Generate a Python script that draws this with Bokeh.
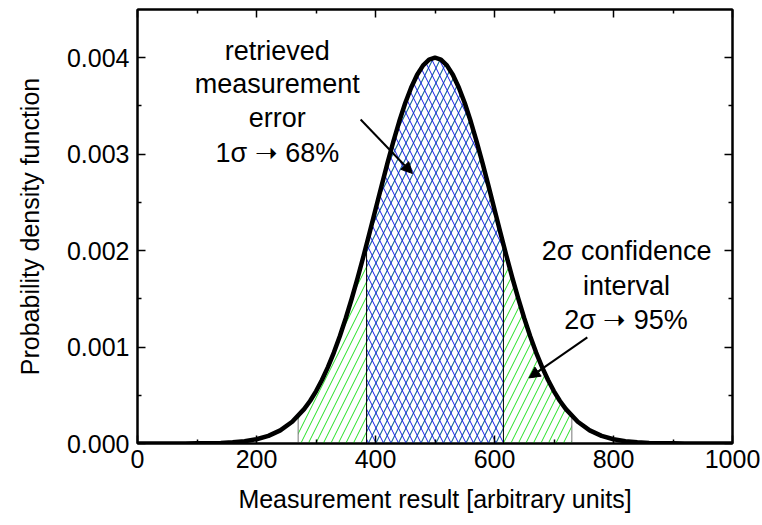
from bokeh.plotting import figure
from bokeh.models import (Range1d, LinearAxis, FixedTicker, NumeralTickFormatter,
                          Arrow, NormalHead, ColumnDataSource)
from bokeh.core.properties import value
from bokeh.embed import file_html
from bokeh.resources import INLINE

# ---- data ----
curve_x = [0, 20, 40, 60, 80, 100, 120, 140, 160, 180, 200, 220, 240, 260, 280,
           290, 300, 310, 320, 330, 340, 350, 360, 370, 380, 390, 400, 410, 420,
           430, 440, 450, 460, 470, 480, 490, 500, 510, 520, 530, 540, 550, 560,
           570, 580, 590, 600, 610, 620, 630, 640, 650, 660, 670, 680, 690, 700,
           710, 720, 740, 760, 780, 800, 820, 840, 860, 880, 900, 920, 940, 960,
           980, 1000]
curve_y = [0.0, 0.0, 0.0000001, 0.0000002, 0.0000006, 0.0000013, 0.0000029,
           0.0000061, 0.0000124, 0.0000239, 0.0000444, 0.0000794, 0.000136,
           0.000225, 0.000356,
           0.000441, 0.000541, 0.000658, 0.000792, 0.000943, 0.001112, 0.001299,
           0.001501, 0.001718, 0.001947, 0.002184, 0.002426, 0.002668, 0.002905,
           0.003131, 0.003341, 0.003530, 0.003692, 0.003824, 0.003921, 0.003980,
           0.004,
           0.003980, 0.003921, 0.003824, 0.003692, 0.003530, 0.003341, 0.003131,
           0.002905, 0.002668, 0.002426, 0.002184, 0.001947, 0.001718, 0.001501,
           0.001299, 0.001112, 0.000943, 0.000792, 0.000658, 0.000541, 0.000441,
           0.000356, 0.000225, 0.000136, 0.0000794, 0.0000444, 0.0000239,
           0.0000124, 0.0000061, 0.0000029, 0.0000013, 0.0000006, 0.0000002,
           0.0000001, 0.0, 0.0]

sigma2_x = [270, 730]          # 2 sigma interval bounds
sigma2_y = [0.000284, 0.000284]
sigma1_x = [385, 615]          # 1 sigma interval bounds
sigma1_y = [0.002065, 0.002065]

x_ticks = [0, 200, 400, 600, 800, 1000]
x_minor = [100, 300, 500, 700, 900]
y_ticks = [0.0, 0.001, 0.002, 0.003, 0.004]
y_minor = [0.0005, 0.0015, 0.0025, 0.0035]

ann_x = [235, 235, 235, 235, 822, 822, 821]
ann_y = [0.00407, 0.00373, 0.00337, 0.00301, 0.0020, 0.00163, 0.00128]
ann_text = ["retrieved", "measurement", "error", "1σ \u279d 68%",
            "2σ confidence", "interval", "2σ \u279d 95%"]

arrow1 = [375, 0.00336, 462, 0.00280]
arrow2 = [756, 0.00110, 658, 0.00068]

FONT = "Liberation Sans"

p = figure(width=762, height=525, output_backend="svg", toolbar_location=None,
           x_range=Range1d(0, 1000), y_range=Range1d(0, 0.0045),
           min_border_left=137, min_border_right=30, min_border_top=9,
           min_border_bottom=82)
p.xgrid.visible = False
p.ygrid.visible = False
p.outline_line_color = "black"
p.outline_line_width = 2
p.background_fill_color = "white"
p.border_fill_color = "white"


def region(lo, hi, ylo, yhi):
    xs = [lo] + [x for x in curve_x if lo < x < hi] + [hi]
    ys = [ylo] + [y for x, y in zip(curve_x, curve_y) if lo < x < hi] + [yhi]
    return xs, ys


gx, gy = region(sigma2_x[0], sigma2_x[1], sigma2_y[0], sigma2_y[1])
p.varea(x=gx, y1=[0] * len(gx), y2=gy, fill_color=None, fill_alpha=0,
        hatch_pattern="/", hatch_color="#22e022", hatch_scale=15, hatch_weight=1)
bx, by = region(sigma1_x[0], sigma1_x[1], sigma1_y[0], sigma1_y[1])
p.varea(x=bx, y1=[0] * len(bx), y2=by, fill_color=None, fill_alpha=0,
        hatch_pattern="\\", hatch_color="#1a1aee", hatch_scale=15, hatch_weight=1)
p.varea(x=bx, y1=[0] * len(bx), y2=by, fill_color=None, fill_alpha=0,
        hatch_pattern="/", hatch_color="#1a1aee", hatch_scale=15, hatch_weight=1,
        hatch_alpha=0.75)

# boundary lines
p.segment(x0=sigma2_x, y0=[0, 0], x1=sigma2_x, y1=sigma2_y, line_color="#777777", line_width=1)
p.segment(x0=sigma1_x, y0=[0, 0], x1=sigma1_x, y1=sigma1_y, line_color="black", line_width=1)

p.line(curve_x, curve_y, line_color="black", line_width=4.5, line_join="round")

src = ColumnDataSource(dict(x=ann_x, y=ann_y, t=ann_text))
p.text(x="x", y="y", text="t", source=src, text_align="center", text_baseline="middle",
       text_font=value(FONT), text_font_size="27px", text_color="black")

for a in (arrow1, arrow2):
    p.add_layout(Arrow(end=NormalHead(size=11, fill_color="black", line_color="black"),
                       x_start=a[0], y_start=a[1], x_end=a[2], y_end=a[3],
                       line_color="black", line_width=2))


def style(ax, labels=True):
    ax.axis_line_width = 2
    ax.axis_line_color = "black"
    ax.major_tick_in = 8
    ax.major_tick_out = 0
    ax.minor_tick_in = 4
    ax.minor_tick_out = 0
    ax.major_tick_line_width = 1.5
    ax.minor_tick_line_width = 1.5
    ax.major_tick_line_color = "black"
    ax.minor_tick_line_color = "black"
    ax.major_label_text_font = FONT
    ax.major_label_text_font_size = "25px"
    ax.major_label_text_color = "black"
    ax.axis_label_text_font = FONT
    ax.axis_label_text_font_size = "25px"
    ax.axis_label_text_font_style = "normal"
    ax.axis_label_text_color = "black"
    if not labels:
        ax.major_label_text_alpha = 0
        ax.major_label_text_font_size = "1px"


xt = FixedTicker(ticks=x_ticks, minor_ticks=x_minor)
yt = FixedTicker(ticks=y_ticks, minor_ticks=y_minor)

p.xaxis.ticker = xt
p.yaxis.ticker = yt
p.yaxis.formatter = NumeralTickFormatter(format="0.000")
p.xaxis.axis_label = "Measurement result [arbitrary units]"
p.yaxis.axis_label = "Probability density function"
style(p.xaxis[0])
style(p.yaxis[0])
p.xaxis.major_label_standoff = 6
p.xaxis.axis_label_standoff = 14
p.yaxis.major_label_standoff = 8
p.yaxis.axis_label_standoff = 20

top = LinearAxis(ticker=FixedTicker(ticks=x_ticks, minor_ticks=x_minor))
style(top, labels=False)
top.major_label_standoff = 0
p.add_layout(top, "above")
right = LinearAxis(ticker=FixedTicker(ticks=y_ticks, minor_ticks=y_minor))
style(right, labels=False)
right.major_label_standoff = 0
p.add_layout(right, "right")

open("out.html", "w").write(file_html(p, INLINE))
